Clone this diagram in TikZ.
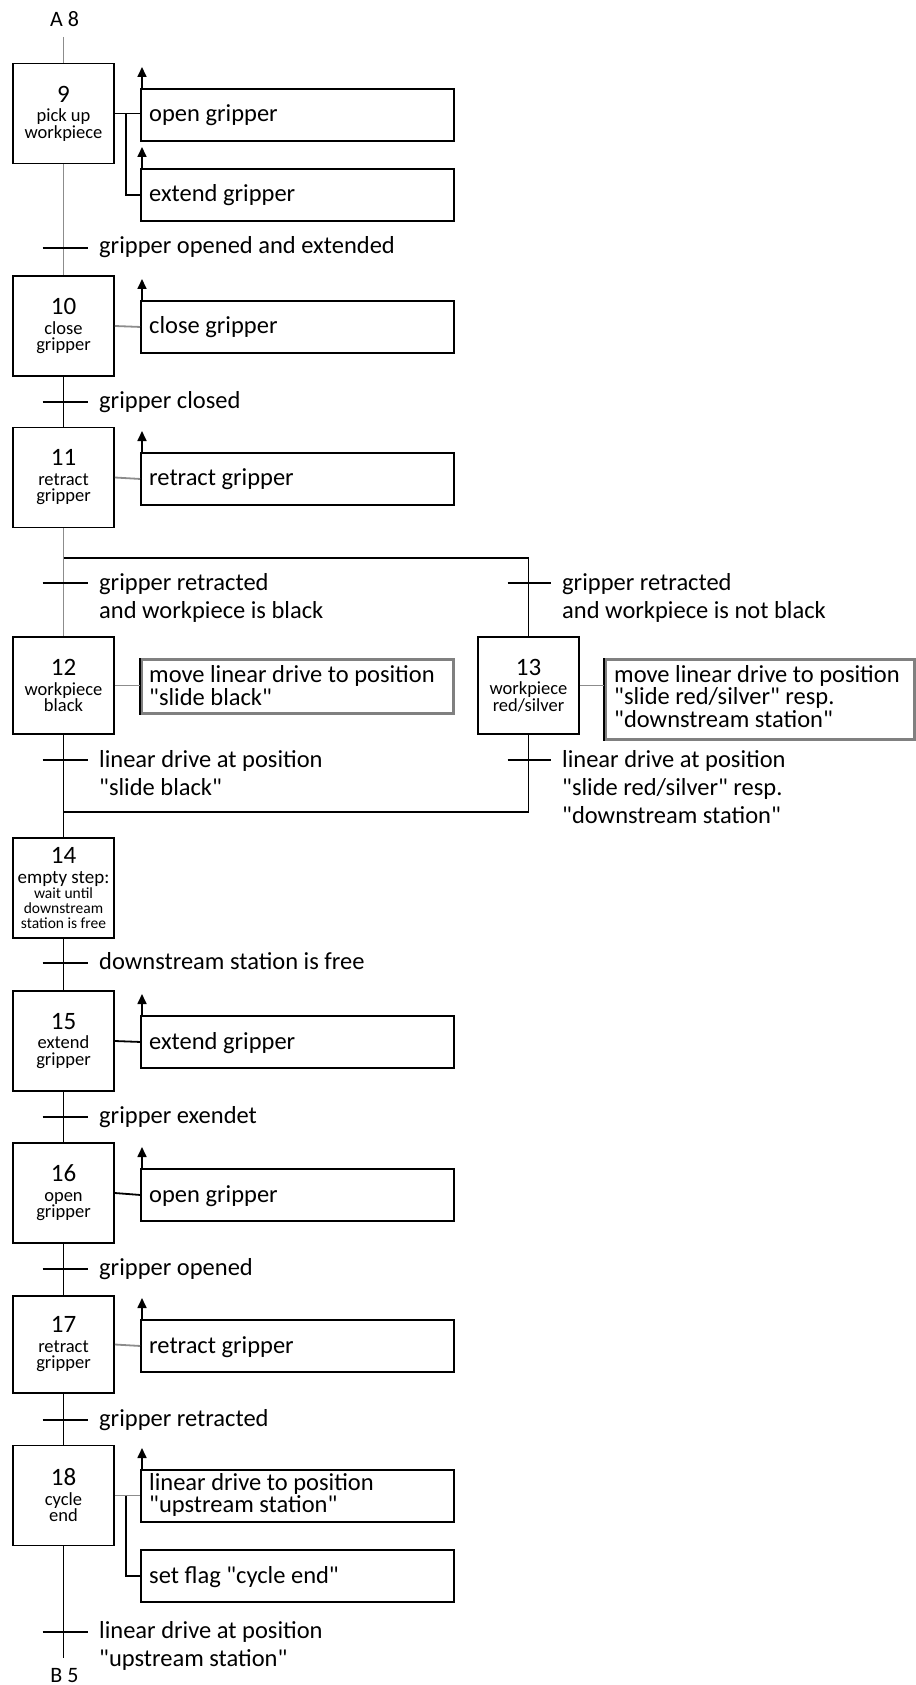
\documentclass[tikz,border=0pt]{standalone}
\usepackage{fontspec}
\setmainfont{Carlito}
\usetikzlibrary{arrows.meta}
\newcommand\stnum[1]{{\fontsize{25}{25}\selectfont #1}}
\newcommand\qq{\textquotedbl}
\tikzset{
  mainln/.style={line width=1.8pt, draw=black},
  grayln/.style={line width=1.8pt, draw=black!45},
  trtick/.style={line width=1.6pt, draw=black},
  stepbox/.style={draw=black, line width=1.9pt, minimum width=101pt, minimum height=100pt,
    inner sep=0pt, align=center, font=\fontsize{18.5}{16.5}\selectfont},
  actbox/.style={draw=black, line width=1.9pt, minimum width=313pt, minimum height=52pt,
    inner sep=0pt, anchor=north west},
  grbox/.style={draw=black!50, line width=2.6pt, inner sep=0pt, anchor=north west},
  acttext/.style={anchor=base west, inner sep=0pt, align=left, font=\fontsize{24.5}{22.5}\selectfont},
  trtext/.style={anchor=base west, inner sep=0pt, align=left, font=\fontsize{24.5}{28}\selectfont},
  endlbl/.style={anchor=base, inner sep=0pt, font=\fontsize{22}{22}\selectfont},
  conn/.style={line width=1.8pt, draw=black},
  gconn/.style={line width=1.8pt, draw=black!45},
  actarrow/.style={-{Triangle[width=9pt,length=10pt]}, line width=1.7pt}
}
\begin{document}
\begin{tikzpicture}[x=1pt,y=-1pt]
\useasboundingbox (0,0) rectangle (915,1685);

% ---------- labels A 8 / B 5 ----------
\node[endlbl] (a8) at (64.5,27) {A 8};
\coordinate (top) at (63.5,37);
\node[endlbl] (b5) at (64.5,1682) {B 5};
\coordinate (bot) at (63.5,1658);

% ---------- step boxes ----------
\node[stepbox] (s9)  at (63.5,113.5) {\stnum{9}\\[3pt]pick up\\workpiece};
\node[stepbox] (s10) at (63.5,326)   {\stnum{10}\\[3pt]close\\gripper};
\node[stepbox] (s11) at (63.5,477.5) {\stnum{11}\\[3pt]retract\\gripper};
\node[stepbox, minimum height=97pt] (s12) at (63.5,685.5) {\stnum{12}\\[3pt]workpiece\\black};
\node[stepbox, minimum height=97pt] (s13) at (528.5,685.5) {\stnum{13}\\[3pt]workpiece\\red/silver};
\node[stepbox, font=\fontsize{15.5}{15}\selectfont] (s14) at (63.5,888)
  {\stnum{14}\\[5pt]{\fontsize{19}{19}\selectfont empty step:}\\wait until\\downstream\\station is free};
\node[stepbox] (s15) at (63.5,1041)   {\stnum{15}\\[3pt]extend\\gripper};
\node[stepbox] (s16) at (63.5,1193)   {\stnum{16}\\[3pt]open\\gripper};
\node[stepbox, minimum height=97pt] (s17) at (63.5,1344.5) {\stnum{17}\\[3pt]retract\\gripper};
\node[stepbox] (s18) at (63.5,1495.5) {\stnum{18}\\[3pt]cycle\\end};

% ---------- main sequence lines ----------
\draw[grayln] (top) -- (s9.north);
\draw[grayln] (s9.south) -- (s10.north);
\draw[mainln] (s10.south) -- (s11.north);
\coordinate (bl) at (63.5,558);
\coordinate (br) at (528.5,558);
\coordinate (ml) at (63.5,812);
\coordinate (mr) at (528.5,812);
\draw[grayln] (s11.south) -- (bl);
\draw[mainln] (bl) -- (br) -- (s13.north);
\draw[grayln] (bl) -- (s12.north);
\draw[mainln] (s12.south) -- (ml);
\draw[mainln] (s13.south) -- (mr) -- (ml) -- (s14.north);
\draw[mainln] (s14.south) -- (s15.north);
\draw[mainln] (s15.south) -- (s16.north);
\draw[mainln] (s16.south) -- (s17.north);
\draw[mainln] (s17.south) -- (s18.north);
\draw[mainln] (s18.south) -- (bot);

% ---------- transitions ----------
\foreach \n/\y in {t1/248, t2/402, t3/583, t5/760, t7/963, t8/1117, t9/1269, t10/1420, t11/1632}{
  \coordinate (\n) at (63.5,\y);
  \draw[trtick] ([xshift=-21pt]\n) -- ([xshift=24pt]\n);
}
\foreach \n/\y in {t4/583, t6/760}{
  \coordinate (\n) at (528.5,\y);
  \draw[trtick] ([xshift=-21pt]\n) -- ([xshift=22pt]\n);
}
% (multi-line labels are placed by the baseline of their last line)
\node[trtext] (l1)  at (99,254)  {gripper opened and extended};
\node[trtext] (l2)  at (99,408)  {gripper closed};
\node[trtext] (l3)  at (99,618)  {gripper retracted\\and workpiece is black};
\node[trtext] (l4)  at (562,618) {gripper retracted\\and workpiece is not black};
\node[trtext] (l5)  at (99,795)  {linear drive at position\\\qq slide black\qq};
\node[trtext] (l6)  at (562,823) {linear drive at position\\\qq slide red/silver\qq\ resp.\\\qq downstream station\qq};
\node[trtext] (l7)  at (99,969)  {downstream station is free};
\node[trtext] (l8)  at (99,1123) {gripper exendet};
\node[trtext] (l9)  at (99,1275) {gripper opened};
\node[trtext] (l10) at (99,1426) {gripper retracted};
\node[trtext] (l11) at (99,1666) {linear drive at position\\\qq upstream station\qq};

% ---------- action boxes ----------
\node[actbox] (a9a)  at (140,88)   {};
\node[actbox] (a9b)  at (140,168)  {};
\node[actbox] (a10)  at (140,300)  {};
\node[actbox] (a11)  at (140,452)  {};
\node[grbox, minimum width=312pt, minimum height=54pt] (a12) at (140,658) {};
\node[grbox, minimum width=309pt, minimum height=80pt] (a13) at (604,658) {};
\node[actbox] (a15)  at (140,1015) {};
\node[actbox] (a16)  at (140,1168) {};
\node[actbox] (a17)  at (140,1319) {};
\node[actbox] (a18a) at (140,1469) {};
\node[actbox] (a18b) at (140,1549) {};
\draw[line width=1.8pt] (a12.north west) -- (a12.south west);
\draw[line width=1.8pt] (a13.north west) -- (a13.south west);

\node[acttext] (x9a)  at (149,122)  {open gripper};
\node[acttext] (x9b)  at (149,202)  {extend gripper};
\node[acttext] (x10)  at (149,334)  {close gripper};
\node[acttext] (x11)  at (149,485)  {retract gripper};
\node[acttext] (x12)  at (149,705)  {move linear drive to position\\\qq slide black\qq};
\node[acttext] (x13)  at (614,727)  {move linear drive to position\\\qq slide red/silver\qq\ resp.\\\qq downstream station\qq};
\node[acttext] (x15)  at (149,1049) {extend gripper};
\node[acttext] (x16)  at (149,1202) {open gripper};
\node[acttext] (x17)  at (149,1353) {retract gripper};
\node[acttext] (x18a) at (149,1512.5) {linear drive to position\\\qq upstream station\qq};
\node[acttext] (x18b) at (149,1583) {set flag \qq cycle end\qq};

% ---------- action connectors ----------
\coordinate (j9) at (126,113.5);
\draw[conn] (s9.east) -- (a9a.west |- s9.east);
\draw[conn] (j9) -- (j9 |- a9b.west) -- (a9b.west);
\draw[gconn] (s10.east) -- (a10.west);
\draw[gconn] (s11.east) -- (a11.west);
\draw[gconn] (s12.east) -- (a12.west |- s12.east);
\draw[gconn] (s13.east) -- (a13.west |- s13.east);
\draw[conn] (s15.east) -- (a15.west);
\draw[conn] (s16.east) -- (a16.west);
\draw[gconn] (s17.east) -- (a17.west);
\coordinate (j18) at (126,1495.5);
\draw[gconn] (s18.east) -- (a18a.west |- s18.east);
\draw[conn] (j18) -- (j18 |- a18b.west) -- (a18b.west);

% ---------- action arrows ----------
\foreach \a in {a9a,a9b,a10,a11,a15,a16,a17,a18a}{
  \draw[actarrow] ([xshift=2pt]\a.north west) -- ++(0,-21);
}
\end{tikzpicture}
\end{document}
